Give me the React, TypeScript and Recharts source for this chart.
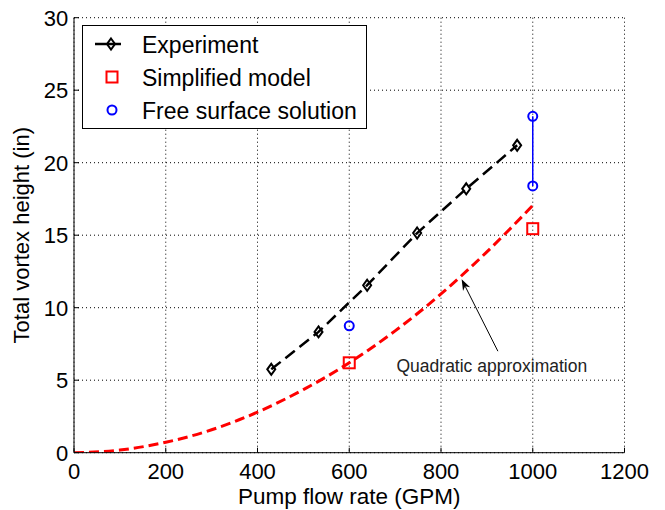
import { ComposedChart, Line, Scatter, XAxis, YAxis, CartesianGrid, Legend, ReferenceLine, ReferenceDot } from "recharts";

// values
const experimentFlow = [430, 533, 639, 748, 855, 966];
const experimentHeight = [5.75, 8.33, 11.55, 15.15, 18.2, 21.2];
const simplifiedFlow = [600, 1000];
const simplifiedHeight = [6.2, 15.45];
const freeSurfaceFlow = [600, 1000, 1000];
const freeSurfaceHeight = [8.75, 18.4, 23.2];
const quadFlow = [0, 100, 200, 300, 400, 500, 600, 700, 800, 900, 1000];
const quadHeight = [0, 0.18, 0.72, 1.58, 2.8, 4.35, 6.2, 8.4, 10.95, 13.85, 17.05];
const xTicks = [0, 200, 400, 600, 800, 1000, 1200];
const yTicks = [0, 5, 10, 15, 20, 25, 30];
const legendLabels = ["Experiment", "Simplified model", "Free surface solution"];
const noteText = "Quadratic approximation";
const noteTail = { x: 924, y: 7.0 };
const noteTip = { x: 845, y: 11.96 };
const noteTextAt = { x: 703, y: 5.57 };

const FONT = "'Liberation Sans', Arial, Helvetica, sans-serif";

const zip = (xs: number[], ys: number[]) => xs.map((x, i) => ({ x, y: ys[i] }));
const experimentData = zip(experimentFlow, experimentHeight);
const simplifiedData = zip(simplifiedFlow, simplifiedHeight);
const freeSurfaceData = zip(freeSurfaceFlow, freeSurfaceHeight);
const freeSurfaceSegment = freeSurfaceData.filter((d) => d.x === 1000);
const quadData = zip(quadFlow, quadHeight);

const Diamond = (props: any) => {
  const { cx, cy } = props;
  if (cx == null || cy == null) return null;
  return (
    <path
      key={`d-${cx}-${cy}`}
      d={`M${cx},${cy - 5.5}L${cx + 4},${cy}L${cx},${cy + 5.5}L${cx - 4},${cy}Z`}
      fill="none"
      stroke="#000"
      strokeWidth={2}
    />
  );
};

const Square = (props: any) => {
  const { cx, cy } = props;
  return <rect x={cx - 5.5} y={cy - 5.5} width={11} height={11} fill="none" stroke="#ff0000" strokeWidth={2} />;
};

const Circle = (props: any) => {
  const { cx, cy } = props;
  return <circle cx={cx} cy={cy} r={4.5} fill="none" stroke="#0000ff" strokeWidth={2} />;
};

const Arrow = (props: any) => {
  const { x1, y1, x2, y2 } = props;
  const ang = Math.atan2(y2 - y1, x2 - x1);
  const len = 11;
  const half = 4;
  const bx = x2 - len * Math.cos(ang);
  const by = y2 - len * Math.sin(ang);
  const nx = -Math.sin(ang);
  const ny = Math.cos(ang);
  const mx = x2 - len * 0.7 * Math.cos(ang);
  const my = y2 - len * 0.7 * Math.sin(ang);
  return (
    <g>
      <line x1={x1} y1={y1} x2={mx} y2={my} stroke="#000" strokeWidth={1} />
      <path
        d={`M${x2},${y2}L${bx + nx * half},${by + ny * half}L${mx},${my}L${bx - nx * half},${by - ny * half}Z`}
        fill="#000"
      />
    </g>
  );
};

const NoteLabel = (props: any) => (
  <text x={props.cx} y={props.cy} fontSize={17.5} fontFamily={FONT} fill="#222">
    {noteText}
  </text>
);

const renderLegend = () => (
  <svg width={285} height={104} style={{ display: "block" }}>
    <rect x={0.5} y={0.5} width={284} height={103} fill="#fff" stroke="#000" strokeWidth={1} />
    <line x1={13} y1={19} x2={48} y2={19} stroke="#000" strokeWidth={2.5} strokeDasharray="26 18 4" />
    <Diamond cx={29} cy={19} />
    <Square cx={30} cy={52} />
    <Circle cx={30} cy={85} />
    {legendLabels.map((t, i) => (
      <text key={t} x={60} y={27.5 + i * 33} fontSize={23} fontFamily={FONT} fill="#000">
        {t}
      </text>
    ))}
  </svg>
);

const YLabel = (props: any) => {
  const { viewBox } = props;
  const cx = viewBox.x + 22;
  const cy = viewBox.y + viewBox.height / 2;
  return (
    <text x={cx} y={cy} transform={`rotate(-90 ${cx} ${cy})`} textAnchor="middle" dominantBaseline="central" fontSize={22} fontFamily={FONT} fill="#000">
      Total vortex height (in)
    </text>
  );
};

const XLabel = (props: any) => {
  const { viewBox } = props;
  return (
    <text x={viewBox.x + viewBox.width / 2} y={viewBox.y + 51} textAnchor="middle" fontSize={22.5} fontFamily={FONT} fill="#000">
      Pump flow rate (GPM)
    </text>
  );
};

export default function App() {
  const tickStyle = { fontSize: 22, fontFamily: FONT, fill: "#000" };
  return (
    <div style={{ position: "absolute", left: 0, top: 0, width: 665, height: 510, background: "#fff" }}>
      <ComposedChart width={665} height={510} margin={{ top: 17.7, right: 40.5, left: 0, bottom: 0 }}>
        <CartesianGrid stroke="#000" strokeDasharray="1 3" horizontalValues={yTicks} verticalValues={xTicks} />
        <XAxis
          type="number"
          dataKey="x"
          domain={[0, 1200]}
          ticks={xTicks}
          allowDataOverflow
          height={57.3}
          tickSize={-5}
          tickMargin={15.6}
          tick={tickStyle}
          axisLine={{ stroke: "#000", strokeWidth: 1 }}
          tickLine={{ stroke: "#000" }}
          label={<XLabel />}
        />
        <YAxis
          type="number"
          dataKey="y"
          domain={[0, 30]}
          ticks={yTicks}
          allowDataOverflow
          width={74}
          tickSize={-5}
          tickMargin={10.7}
          tick={tickStyle}
          axisLine={{ stroke: "#000", strokeWidth: 1 }}
          tickLine={{ stroke: "#000" }}
          label={<YLabel />}
        />
        <Legend
          layout="vertical"
          align="center"
          verticalAlign="middle"
          content={renderLegend}
          wrapperStyle={{ left: 82, top: 25, width: 285, height: 104 }}
        />
        <Line
          data={quadData}
          dataKey="y"
          type="monotone"
          stroke="#ff0000"
          strokeWidth={3}
          strokeDasharray="10 5"
          dot={false}
          isAnimationActive={false}
          legendType="none"
        />
        <Line
          data={experimentData}
          dataKey="y"
          type="linear"
          stroke="#000"
          strokeWidth={2.5}
          strokeDasharray="12 6"
          dot={Diamond}
          activeDot={false}
          isAnimationActive={false}
        />
        <Line
          data={freeSurfaceSegment}
          dataKey="y"
          type="linear"
          stroke="#0000ff"
          strokeWidth={1.5}
          dot={false}
          activeDot={false}
          isAnimationActive={false}
          legendType="none"
        />
        <Scatter data={simplifiedData} dataKey="y" shape={Square} isAnimationActive={false} />
        <Scatter data={freeSurfaceData} dataKey="y" shape={Circle} isAnimationActive={false} />
        <ReferenceLine segment={[noteTail, noteTip]} shape={Arrow} />
        <ReferenceDot x={noteTextAt.x} y={noteTextAt.y} r={0} shape={NoteLabel} />
      </ComposedChart>
    </div>
  );
}
